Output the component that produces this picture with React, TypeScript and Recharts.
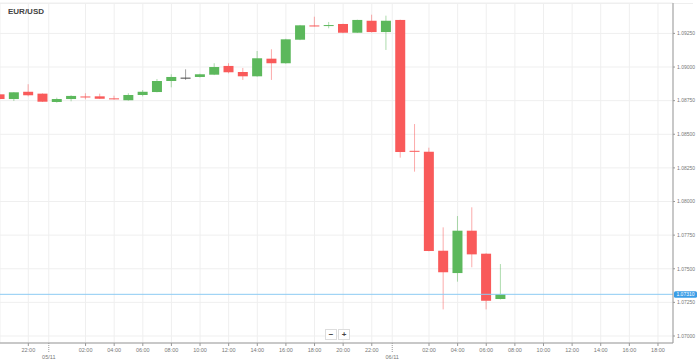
import React from "react";
import {
  ComposedChart,
  Bar,
  XAxis,
  YAxis,
  CartesianGrid,
  ReferenceLine,
} from "recharts";

// hours from 00:00 on 05/11, one candle per hour
const hours = [-4, -3, -2, -1, 0, 1, 2, 3, 4, 5, 6, 7, 8, 9, 10, 11, 12, 13, 14, 15, 16, 17, 18, 19, 20, 21, 22, 23, 24, 25, 26, 27, 28, 29, 30, 31];
const opens = [1.08797, 1.08762, 1.08816, 1.08802, 1.0874, 1.08762, 1.08781, 1.08782, 1.08767, 1.08753, 1.08792, 1.08814, 1.08896, 1.08921, 1.08926, 1.08943, 1.09008, 1.08963, 1.08931, 1.09062, 1.09028, 1.09203, 1.09309, 1.09309, 1.0932, 1.09255, 1.09344, 1.0926, 1.0935, 1.08377, 1.0837, 1.07634, 1.07468, 1.07783, 1.07612, 1.07275];
const closes = [1.08762, 1.08812, 1.0879, 1.08742, 1.08762, 1.08785, 1.08777, 1.08764, 1.0876, 1.08792, 1.08816, 1.08896, 1.08926, 1.08921, 1.08946, 1.09, 1.08961, 1.08931, 1.09065, 1.09028, 1.09206, 1.0931, 1.09305, 1.09312, 1.09255, 1.0935, 1.0926, 1.09344, 1.08368, 1.08373, 1.07632, 1.07474, 1.07783, 1.07607, 1.07262, 1.0731];
const highs = [1.088, 1.08814, 1.08872, 1.08804, 1.08772, 1.0879, 1.08805, 1.08802, 1.08787, 1.08805, 1.08829, 1.08911, 1.08946, 1.08983, 1.0895, 1.09028, 1.09028, 1.08993, 1.09119, 1.09132, 1.0921, 1.09313, 1.09374, 1.09335, 1.09322, 1.09352, 1.09389, 1.09382, 1.09352, 1.08576, 1.084, 1.07808, 1.07892, 1.07957, 1.07615, 1.07535];
const lows = [1.0876, 1.08747, 1.08782, 1.0874, 1.08735, 1.08745, 1.0876, 1.08762, 1.08758, 1.0875, 1.08782, 1.08812, 1.08849, 1.08904, 1.08922, 1.0894, 1.08953, 1.08904, 1.08928, 1.08904, 1.09025, 1.092, 1.09301, 1.09288, 1.09251, 1.09253, 1.09257, 1.09127, 1.08326, 1.08222, 1.0763, 1.07198, 1.07404, 1.07511, 1.07198, 1.07272];

const xTicks = [-2, -0.57, 2, 4, 6, 8, 10, 12, 14, 16, 18, 20, 22, 23.43, 26, 28, 30, 32, 34, 36, 38, 40, 42];
const xTickLabels = ["22:00", "05/11", "02:00", "04:00", "06:00", "08:00", "10:00", "12:00", "14:00", "16:00", "18:00", "20:00", "22:00", "06/11", "02:00", "04:00", "06:00", "08:00", "10:00", "12:00", "14:00", "16:00", "18:00"];
const dateTicks = ["05/11", "06/11"];
const yTicks = [1.07, 1.0725, 1.075, 1.0775, 1.08, 1.0825, 1.085, 1.0875, 1.09, 1.0925];
const lastPrice = 1.0731;

const UP = "#5cb85c";
const DOWN = "#f95a5a";
const FLAT = "#444";

const data = hours.map((t, i) => ({
  t,
  open: opens[i],
  close: closes[i],
  high: highs[i],
  low: lows[i],
}));

const Candle = (props: any) => {
  const { x, y, width, height, payload } = props;
  if (!payload) return null;
  const { open, close, high, low } = payload;
  const top = Math.min(y, y + height);
  const h = Math.abs(height);
  const ratio = h / (high - low);
  const yOf = (v: number) => top + (high - v) * ratio;
  const color = close > open ? UP : close < open ? DOWN : FLAT;
  const bTop = yOf(Math.max(open, close));
  const bBot = yOf(Math.min(open, close));
  const cx = x + width / 2;
  return (
    <g>
      <line x1={cx} x2={cx} y1={top} y2={top + h} stroke={color} strokeOpacity={0.5} strokeWidth={1} />
      <rect x={x} y={bTop} width={width} height={Math.max(1, bBot - bTop)} fill={color} />
    </g>
  );
};

const XTick = (props: any) => {
  const { x, y, payload } = props;
  const idx = xTicks.indexOf(payload.value);
  const label = xTickLabels[idx] ?? "";
  if (dateTicks.includes(label)) {
    return (
      <g>
        <line x1={x} x2={x} y1={y} y2={y + 9} stroke="#999" strokeDasharray="1 1" />
        <text x={x} y={y + 16} textAnchor="middle" fontSize={5.5} fill="#777">
          {label}
        </text>
      </g>
    );
  }
  return (
    <g>
      <line x1={x} x2={x} y1={y} y2={y + 3} stroke="#999" />
      <text x={x} y={y + 9} textAnchor="middle" fontSize={5.5} fill="#777">
        {label}
      </text>
    </g>
  );
};

const PriceTag = (props: any) => {
  const { viewBox } = props;
  if (!viewBox) return null;
  const px = viewBox.x + viewBox.width + 1;
  const py = viewBox.y;
  return (
    <g>
      <rect x={px} y={py - 3} width={23} height={6.5} rx={1.5} fill="#3a9de6" />
      <text x={px + 11.5} y={py + 2} textAnchor="middle" fontSize={5} fill="#fff">
        {lastPrice.toFixed(5)}
      </text>
    </g>
  );
};

export default function App() {
  return (
    <div style={{ position: "relative", width: 698, height: 363, background: "#fff", fontFamily: "'Liberation Sans', Arial, sans-serif" }}>
      <style>{"body{margin:0}"}</style>
      <div style={{ position: "absolute", left: 0, right: 5, top: 3, borderTop: "1px solid #eee" }} />
      <ComposedChart width={698} height={363} data={data} margin={{ top: 3, right: 0, left: 0, bottom: 0 }}>
        <CartesianGrid stroke="#efefef" strokeWidth={1} />
        <XAxis
          dataKey="t"
          type="number"
          domain={[-3.979, 43.05]}
          ticks={xTicks}
          allowDataOverflow
          interval={0}
          height={20}
          tickLine={false}
          tickSize={0}
          tickMargin={0}
          axisLine={{ stroke: "#999" }}
          tick={<XTick />}
        />
        <YAxis
          orientation="right"
          type="number"
          domain={[1.06948, 1.09476]}
          ticks={yTicks}
          allowDataOverflow
          interval={0}
          width={25}
          axisLine={{ stroke: "#999" }}
          tickLine={{ stroke: "#999" }}
          tickSize={2}
          tickFormatter={(v: number) => v.toFixed(5)}
          tick={{ fontSize: 5, fill: "#777" }}
        />
        <ReferenceLine y={lastPrice} stroke="#8ccbf3" strokeWidth={1} label={<PriceTag />} />
        <Bar
          dataKey={(d: any) => [d.low, d.high]}
          barSize={10}
          shape={<Candle />}
          isAnimationActive={false}
        />
      </ComposedChart>
      <div style={{ position: "absolute", left: 8, top: 7, fontSize: 8, fontWeight: "bold", color: "#444" }}>EUR/USD</div>
      <div style={{ position: "absolute", left: 325, top: 329, display: "flex", gap: 1 }}>
        {["−", "+"].map((s) => (
          <div
            key={s}
            style={{
              width: 10,
              height: 9,
              border: "1px solid #ddd",
              background: "#fff",
              fontSize: 8,
              lineHeight: "9px",
              textAlign: "center",
              color: "#444",
              fontWeight: "bold",
            }}
          >
            {s}
          </div>
        ))}
      </div>
    </div>
  );
}
